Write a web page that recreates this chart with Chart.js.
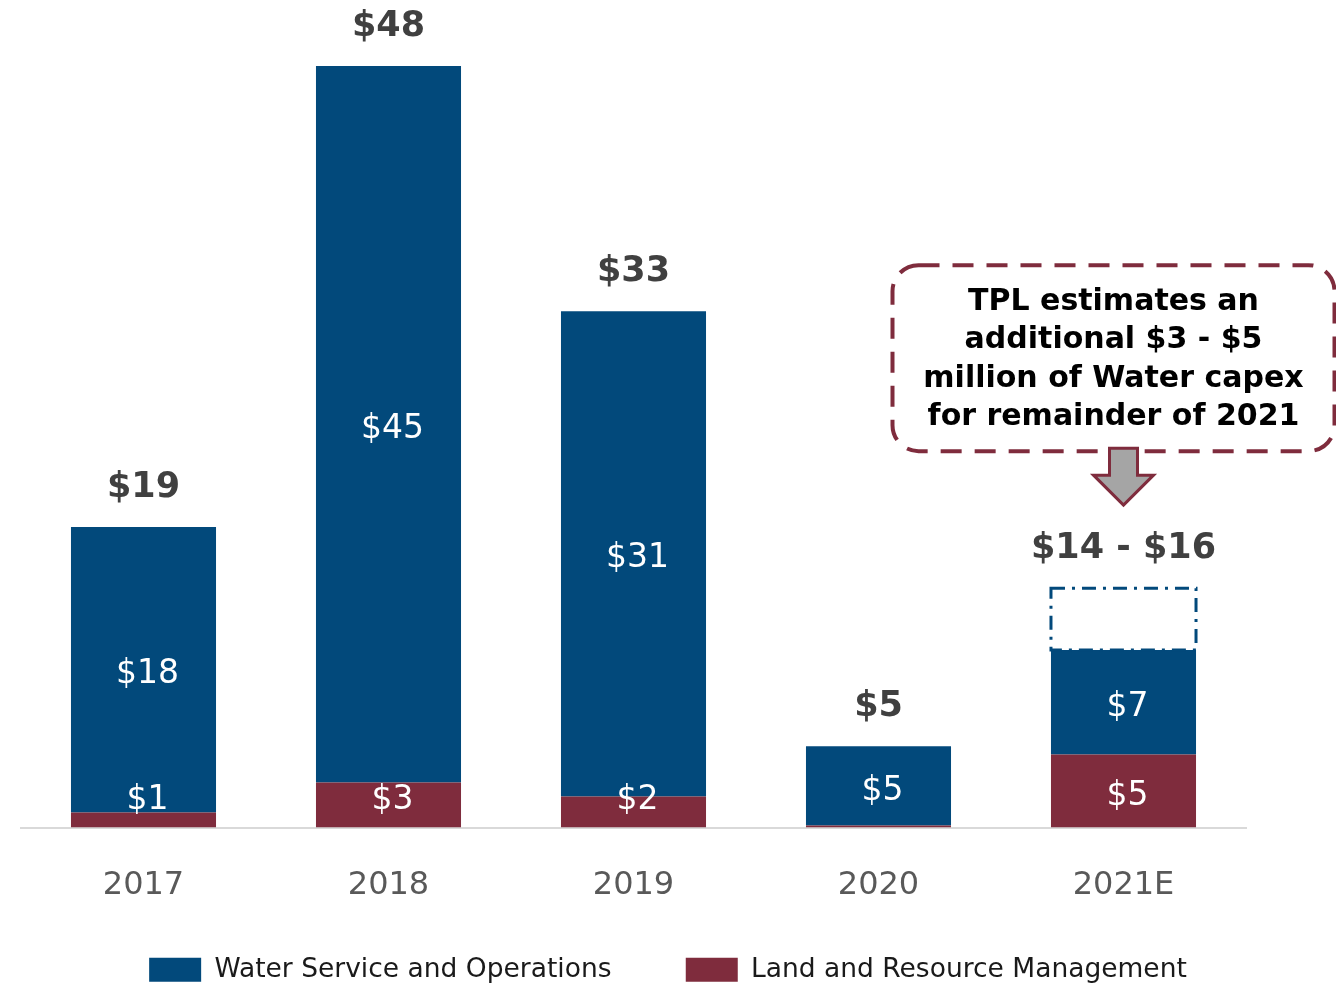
<!DOCTYPE html>
<html>
<head>
<meta charset="utf-8">
<script src="https://cdn.jsdelivr.net/npm/chart.js@4.4.0/dist/chart.umd.min.js"></script>
<style>
  html, body { margin: 0; padding: 0; background: #ffffff; }
  #wrap { width: 1336px; height: 985px; }
</style>
</head>
<body>
<div id="wrap"><canvas id="capexChart" width="1336" height="985"></canvas></div>
<script>
const years = ['2017', '2018', '2019', '2020', '2021E'];
const landValues = [0.95, 2.84, 1.96, 0.12, 4.6];
const waterValues = [18.0, 45.2, 30.6, 5.0, 6.6];
const extraWater = [null, null, null, null, 3.9];
const landLabels = ['$1', '$3', '$2', '', '$5'];
const waterLabels = ['$18', '$45', '$31', '$5', '$7'];
const totalLabels = ['$19', '$48', '$33', '$5', '$14 - $16'];
const calloutLines = ['TPL estimates an', 'additional $3 - $5', 'million of Water capex', 'for remainder of 2021'];

const BLUE = '#02497b';
const MAROON = '#7f2c3d';
const FONT = "'DejaVu Sans', sans-serif";

function roundRect(ctx, x, y, w, h, r) {
    ctx.beginPath();
    ctx.moveTo(x + r, y);
    ctx.lineTo(x + w - r, y);
    ctx.arcTo(x + w, y, x + w, y + r, r);
    ctx.lineTo(x + w, y + h - r);
    ctx.arcTo(x + w, y + h, x + w - r, y + h, r);
    ctx.lineTo(x + r, y + h);
    ctx.arcTo(x, y + h, x, y + h - r, r);
    ctx.lineTo(x, y + r);
    ctx.arcTo(x, y, x + r, y, r);
    ctx.closePath();
}

const labelPlugin = {
    id: 'barLabels',
    afterDatasetsDraw(chart) {
        const ctx = chart.ctx;
        const landMeta = chart.getDatasetMeta(0);
        const waterMeta = chart.getDatasetMeta(1);
        const extraMeta = chart.getDatasetMeta(2);
        const base = chart.scales.y.getPixelForValue(0);
        ctx.save();
        ctx.textAlign = 'center';
        ctx.textBaseline = 'middle';
        ctx.fillStyle = '#ffffff';
        ctx.font = '33px ' + FONT;
        years.forEach((y, i) => {
            const lb = landMeta.data[i];
            if (landLabels[i]) {
                const cy = Math.min((lb.y + lb.base) / 2 + 5, base - 27);
                ctx.fillText(landLabels[i], lb.x + 4, cy);
            }
            const wb = waterMeta.data[i];
            ctx.fillText(waterLabels[i], wb.x + 4, (wb.y + wb.base) / 2 + 5);
        });

        // dashed outline for the estimated remainder
        const eb = extraMeta.data[4];
        ctx.strokeStyle = BLUE;
        ctx.lineWidth = 3;
        ctx.setLineDash([14, 7, 3, 7]);
        ctx.strokeRect(eb.x - eb.width / 2, eb.y, eb.width, eb.base - eb.y);
        ctx.setLineDash([]);

        // totals
        ctx.fillStyle = '#404040';
        ctx.font = 'bold 35px ' + FONT;
        years.forEach((y, i) => {
            let top = waterMeta.data[i].y;
            if (extraWater[i] !== null) top = extraMeta.data[i].y;
            ctx.fillText(totalLabels[i], waterMeta.data[i].x, top - 39);
        });

        // callout box + arrow
        const ax = eb.x;
        const tip = eb.y - 83;
        const boxX = ax - 231, boxY = tip - 240, boxW = 442, boxH = 186;
        ctx.strokeStyle = MAROON;
        ctx.lineWidth = 4;
        ctx.setLineDash([21, 13]);
        roundRect(ctx, boxX, boxY, boxW, boxH, 26);
        ctx.stroke();
        ctx.setLineDash([]);

        ctx.beginPath();
        ctx.moveTo(ax - 14, tip - 57);
        ctx.lineTo(ax + 14, tip - 57);
        ctx.lineTo(ax + 14, tip - 30);
        ctx.lineTo(ax + 30, tip - 30);
        ctx.lineTo(ax, tip);
        ctx.lineTo(ax - 30, tip - 30);
        ctx.lineTo(ax - 14, tip - 30);
        ctx.closePath();
        ctx.fillStyle = '#a5a5a5';
        ctx.fill();
        ctx.strokeStyle = MAROON;
        ctx.lineWidth = 3;
        ctx.stroke();

        ctx.fillStyle = '#000000';
        ctx.font = 'bold 30px ' + FONT;
        calloutLines.forEach((line, k) => {
            ctx.fillText(line, boxX + boxW / 2, boxY + 37 + k * 38.5);
        });
        ctx.restore();
    }
};

new Chart(document.getElementById('capexChart'), {
    type: 'bar',
    data: {
        labels: years,
        datasets: [{
            label: 'Land and Resource Management',
            data: landValues,
            backgroundColor: MAROON
        }, {
            label: 'Water Service and Operations',
            data: waterValues,
            backgroundColor: BLUE
        }, {
            label: 'extra',
            data: extraWater,
            backgroundColor: 'rgba(0,0,0,0)'
        }]
    },
    options: {
        responsive: false,
        animation: false,
        layout: {
            padding: { left: 0, right: 0, top: 0, bottom: -8 }
        },
        datasets: {
            bar: { categoryPercentage: 1, barPercentage: 0.592 }
        },
        scales: {
            x: {
                stacked: true,
                grid: { display: false, drawTicks: false },
                border: { color: '#d9d9d9', width: 2 },
                ticks: {
                    color: '#595959',
                    font: { family: FONT, size: 32 },
                    padding: 39
                },
                afterFit(scale) { scale.height = 80; }
            },
            y: {
                stacked: true,
                min: 0,
                max: 52.2,
                grid: { display: false },
                border: { display: false },
                ticks: { display: false },
                afterFit(scale) { scale.width = 21; }
            },
            yRight: {
                position: 'right',
                grid: { display: false },
                border: { display: false },
                ticks: { display: false },
                afterFit(scale) { scale.width = 90; }
            }
        },
        plugins: {
            legend: {
                position: 'bottom',
                reverse: true,
                labels: {
                    generateLabels(chart) {
                        const items = Chart.defaults.plugins.legend.labels.generateLabels(chart);
                        return items.filter(item => item.text !== 'extra').map(item => {
                            if (item.datasetIndex === 1) item.text += '   ';
                            return item;
                        });
                    },
                    boxWidth: 52,
                    boxHeight: 24,
                    color: '#1a1a1a',
                    padding: 49,
                    font: { family: FONT, size: 26.5 }
                }
            },
            tooltip: { enabled: false }
        }
    },
    plugins: [labelPlugin]
});
</script>
</body>
</html>
